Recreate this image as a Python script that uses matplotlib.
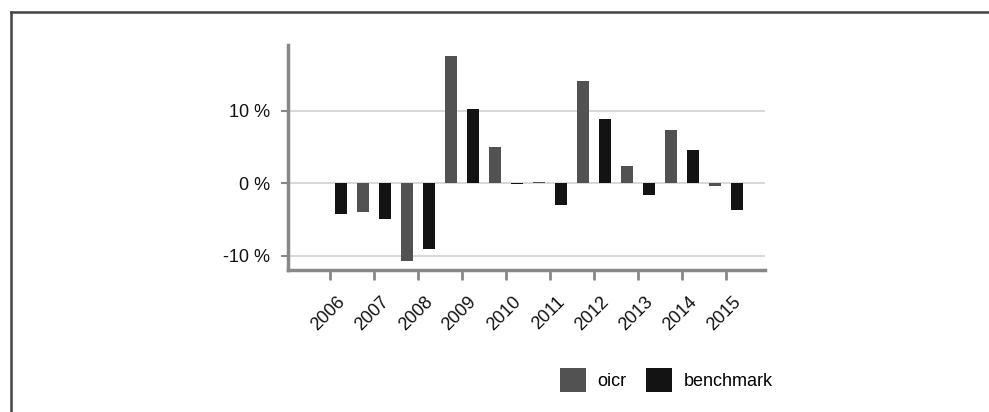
import matplotlib
matplotlib.use("Agg")
import matplotlib.pyplot as plt
from matplotlib.lines import Line2D
from matplotlib.patches import Patch
import matplotlib.transforms as mtransforms
import numpy as np

years = ["2006", "2007", "2008", "2009", "2010", "2011", "2012", "2013", "2014", "2015"]
oicr = [0.0, -4.0, -10.7, 17.6, 5.0, 0.2, 14.1, 2.35, 7.3, -0.35]
benchmark = [-4.2, -4.9, -9.1, 10.2, -0.15, -3.0, 8.85, -1.6, 4.55, -3.7]
yticks = [-10, 0, 10]
ytick_labels = ["-10 %", "0 %", "10 %"]
series_names = ["oicr", "benchmark"]
colors = ["#525252", "#131313"]

plt.rcParams['font.family'] = ['Liberation Sans', 'DejaVu Sans']
FS = 13

fig = plt.figure(figsize=(9.89, 4.12), dpi=100)
ax = fig.add_axes([288/989, 1-270/412, (765-288)/989, (270-45)/412])

x = np.arange(len(years))
w = 0.27
off = 0.25
ax.bar(x - off, oicr, width=w, color=colors[0], zorder=3)
ax.bar(x + off, benchmark, width=w, color=colors[1], zorder=3)

ax.set_xlim(-0.955, 9.89)
ax.set_ylim(-12.0, 19.1)
ax.set_yticks(yticks)
ax.set_yticklabels(ytick_labels, fontsize=FS, color="#111111")
ax.set_xticks(x)
ax.set_xticklabels(years, rotation=45, ha='right', rotation_mode='anchor', fontsize=FS, color="#111111")
ax.tick_params(axis='x', length=7, width=2, color="#888888", pad=10)
ax.tick_params(axis='y', length=5, width=1.5, color="#888888", pad=8)
ax.grid(axis='y', color="#d9d9d9", linewidth=1.5, zorder=0)
for s in ['top', 'right']:
    ax.spines[s].set_visible(False)
for s in ['left', 'bottom']:
    ax.spines[s].set_color("#888888")
    ax.spines[s].set_linewidth(2.5)

dx = mtransforms.ScaledTranslation(6/100, 0, fig.dpi_scale_trans)
for lbl in ax.get_xticklabels():
    lbl.set_transform(lbl.get_transform() + dx)

handles = [Patch(facecolor=colors[0], edgecolor='none'), Patch(facecolor=colors[1], edgecolor='none')]
fig.legend(handles, series_names, loc='center left', bbox_to_anchor=(546/989, 1-380/412),
           frameon=False, ncol=2, fontsize=FS, handlelength=1.4, handleheight=1.75,
           handletextpad=0.65, columnspacing=1.1, borderpad=0.3)

# outer frame (top and left)
fig.add_artist(Line2D([10.5/989, 1.0], [1-11.5/412, 1-11.5/412], transform=fig.transFigure, color="#444444", linewidth=1.8))
fig.add_artist(Line2D([10.5/989, 10.5/989], [0, 1-11.5/412], transform=fig.transFigure, color="#444444", linewidth=1.8))

fig.savefig("out.png", dpi=100)
